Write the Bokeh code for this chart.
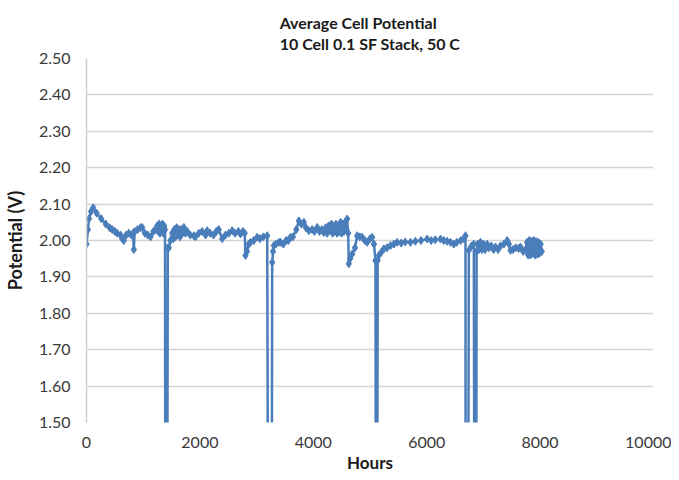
from bokeh.plotting import figure
from bokeh.models import Title, Range1d, FixedTicker, NumeralTickFormatter
from bokeh.embed import file_html
from bokeh.resources import INLINE

# Hours (x) and average cell potential in V (y); 0 marks shutdown drops below axis
hours = [0, 25, 45, 80, 118, 180, 260, 340, 410, 453, 500, 541, 600, 630, 658, 700, 746, 790, 820, 835,
         850, 900, 950, 982, 1030, 1080, 1129, 1180, 1220, 1246, 1265, 1280, 1295, 1310, 1325, 1340, 1355,
         1370, 1385, 1395, 1410, 1434, 1452, 1480, 1511, 1530, 1550, 1570, 1590, 1610, 1630, 1650, 1670,
         1690, 1717, 1745, 1776, 1830, 1893, 1922, 1980, 2040, 2100, 2128, 2180, 2240, 2290, 2333, 2393,
         2450, 2510, 2570, 2620, 2680, 2716, 2760, 2790, 2804, 2830, 2860, 2892, 2950, 3010, 3060, 3120,
         3187, 3225, 3255, 3275, 3290, 3304, 3340, 3393, 3422, 3470, 3520, 3560, 3598, 3640, 3700, 3745,
         3790, 3833, 3870, 3921, 3980, 4020, 4069, 4110, 4150, 4186, 4220, 4245, 4270, 4303, 4320, 4340,
         4360, 4380, 4400, 4420, 4440, 4460, 4480, 4500, 4520, 4540, 4560, 4580, 4597, 4615, 4626, 4650,
         4686, 4735, 4774, 4820, 4862, 4910, 4950, 5000, 5038, 5070, 5097, 5110, 5120, 5135, 5156, 5200,
         5244, 5300, 5362, 5420, 5479, 5550, 5620, 5714, 5800, 5900, 6008, 6080, 6150, 6243, 6302, 6360,
         6420, 6478, 6530, 6600, 6655, 6684, 6690, 6718, 6743, 6790, 6831, 6855, 6866, 6880, 6900, 6920,
         6949, 6975, 7000, 7030, 7066, 7100, 7140, 7180, 7213, 7260, 7300, 7360, 7420, 7450, 7478, 7520,
         7570, 7620, 7654, 7700, 7743, 7770, 7790, 7810, 7830, 7850, 7870, 7890, 7910, 7930, 7950, 7970,
         7990, 8010, 8030]
potential = [1.99, 2.03, 2.06, 2.08, 2.09, 2.075, 2.06, 2.045, 2.035, 2.03, 2.025, 2.02, 2.015, 2.005, 2.0,
             2.015, 2.02, 2.015, 2.02, 1.975, 2.025, 2.03, 2.035, 2.036, 2.02, 2.015, 2.01, 2.025, 2.03, 2.04,
             2.025, 2.045, 2.02, 2.04, 2.03, 2.045, 2.02, 2.04, 2.03, 0.0, 0.0, 1.98, 1.98, 2.0, 2.02, 2.005,
             2.03, 2.01, 2.035, 2.015, 2.03, 2.01, 2.03, 2.02, 2.036, 2.02, 2.025, 2.015, 2.013, 2.01, 2.02,
             2.025, 2.015, 2.027, 2.02, 2.015, 2.025, 2.03, 2.005, 2.015, 2.02, 2.027, 2.02, 2.025, 2.018,
             2.025, 2.02, 1.959, 1.97, 1.99, 1.995, 2.0, 2.009, 2.005, 2.01, 2.013, 0.0, 0.0, 1.94, 1.97,
             1.986, 1.99, 1.995, 1.995, 1.99, 2.0, 2.0, 2.009, 2.01, 2.03, 2.054, 2.045, 2.05, 2.035, 2.027,
             2.03, 2.025, 2.036, 2.025, 2.03, 2.022, 2.035, 2.02, 2.04, 2.03, 2.045, 2.02, 2.04, 2.025, 2.045,
             2.02, 2.04, 2.025, 2.05, 2.02, 2.045, 2.025, 2.05, 2.03, 2.059, 2.02, 1.936, 1.95, 1.963, 1.98,
             2.013, 2.01, 2.009, 2.0, 1.995, 2.005, 2.009, 1.99, 1.945, 0.0, 0.0, 1.945, 1.959, 1.968, 1.977,
             1.98, 1.986, 1.99, 1.995, 1.993, 1.996, 1.995, 1.998, 2.0, 2.004, 2.0, 2.002, 2.004, 2.0, 1.998,
             1.995, 1.99, 1.995, 2.0, 2.005, 2.013, 0.0, 0.0, 1.973, 1.985, 1.99, 0.0, 0.0, 1.97, 1.99, 1.975,
             1.995, 1.975, 1.99, 1.975, 1.99, 1.98, 1.985, 1.975, 1.982, 1.975, 1.985, 1.99, 2.0, 1.99, 1.973,
             1.975, 1.98, 1.978, 1.982, 1.97, 1.975, 1.995, 1.96, 2.0, 1.96, 1.998, 1.965, 2.0, 1.96, 1.997,
             1.962, 1.995, 1.965, 1.99, 1.97]

x_ticks = [0, 2000, 4000, 6000, 8000, 10000]
y_ticks = [1.5, 1.6, 1.7, 1.8, 1.9, 2.0, 2.1, 2.2, 2.3, 2.4, 2.5]
title_lines = ["Average Cell Potential", "10 Cell 0.1 SF Stack, 50 C"]

FONT = "Lato"
BLUE = "#4a7ebb"

p = figure(frame_width=567, frame_height=364, output_backend="svg", toolbar_location=None,
           x_range=Range1d(0, 10000), y_range=Range1d(1.5, 2.5),
           min_border_left=0, min_border_right=18, min_border_top=0, min_border_bottom=0)
p.outline_line_color = None

p.add_layout(Title(text="\n".join(title_lines), align="center", text_font=FONT, text_font_size="16px",
                   text_font_style="bold", text_color="#1a1a1a", text_line_height=1.09,
                   offset=0, standoff=11), "above")
p.add_layout(Title(text=" ", text_font_size="3px", standoff=0), "above")

p.line(hours, potential, line_color=BLUE, line_width=2.5)
p.scatter(hours, potential, marker="diamond", size=8, fill_color=BLUE, line_color=BLUE)

p.xaxis.ticker = FixedTicker(ticks=x_ticks)
p.yaxis.ticker = FixedTicker(ticks=y_ticks)
p.yaxis.formatter = NumeralTickFormatter(format="0.00")
p.xaxis.formatter = NumeralTickFormatter(format="0")

for ax in (p.xaxis, p.yaxis):
    ax.major_tick_line_color = None
    ax.minor_tick_line_color = None
    ax.major_tick_out = 0
    ax.major_tick_in = 0
    ax.minor_tick_out = 0
    ax.minor_tick_in = 0
    ax.major_label_text_font = FONT
    ax.major_label_text_font_size = "16px"
    ax.major_label_text_color = "#3a3a3a"
    ax.axis_label_text_font = FONT
    ax.axis_label_text_font_size = "17px"
    ax.axis_label_text_font_style = "bold"
    ax.axis_label_text_color = "#1a1a1a"
    ax.axis_line_color = "#d0d0d0"
    ax.axis_line_width = 1.5

p.yaxis.axis_label = "Potential (V)"
p.xaxis.axis_label = "Hours"
p.yaxis.axis_label_text_font_size = "18px"
p.yaxis.major_label_standoff = 16
p.yaxis.axis_label_standoff = 10
p.xaxis.major_label_standoff = 14
p.xaxis.axis_label_standoff = 1
p.xaxis.axis_line_color = None

p.xgrid.grid_line_color = None
p.ygrid.grid_line_color = "#d4d4d4"
p.ygrid.grid_line_width = 1.5

open("out.html", "w").write(file_html(p, INLINE))
